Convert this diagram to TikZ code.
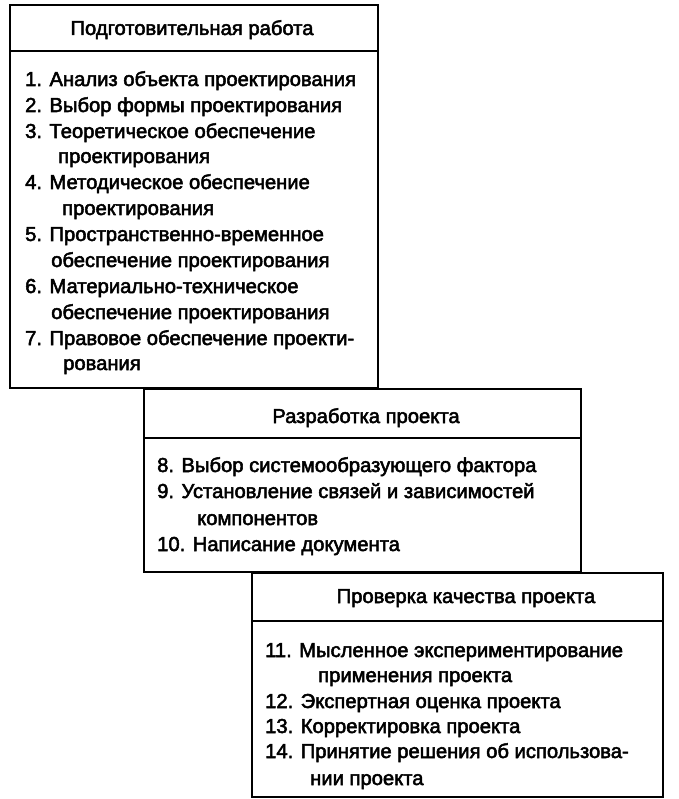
\documentclass[tikz,border=0pt]{standalone}
\usepackage{fontspec}
\setmainfont{Liberation Sans}[BoldFont=Liberation Sans,BoldFeatures={FakeBold=2.5}]
\begin{document}
\begin{tikzpicture}[x=1pt,y=-1pt,
  boxline/.style={draw=black,line width=1.5pt},
  sepline/.style={draw=black,line width=1.2pt},
  txt/.style={anchor=base west,inner sep=0pt,font=\bfseries\fontsize{20.2}{24}\selectfont},
  head/.style={anchor=base,inner sep=0pt,font=\bfseries\fontsize{20.2}{24}\selectfont}]
\useasboundingbox (0,0) rectangle (678,799);
% box 1
\draw[boxline] (10,5) rectangle (378,388);
\draw[sepline] (10,51) -- (378,51);
\node[head] (h1) at (192,35) {Подготовительная работа};
\node[txt] (a1) at (25,86) {1. Анализ объекта проектирования};
\node[txt] (a2) at (25,112) {2. Выбор формы проектирования};
\node[txt] (a3) at (25,138) {3. Теоретическое обеспечение};
\node[txt] (a3b) at (58,163) {проектирования};
\node[txt] (a4) at (25,189) {4. Методическое обеспечение};
\node[txt] (a4b) at (62,215) {проектирования};
\node[txt] (a5) at (25,241) {5. Пространственно-временное};
\node[txt] (a5b) at (51,267) {обеспечение проектирования};
\node[txt] (a6) at (25,293) {6. Материально-техническое};
\node[txt] (a6b) at (51,319) {обеспечение проектирования};
\node[txt] (a7) at (25,345) {7. Правовое обеспечение проекти-};
\node[txt] (a7b) at (63,370) {рования};
% box 2
\draw[boxline] (144,389) rectangle (581,572);
\draw[sepline] (144,438) -- (581,438);
\node[head] (h2) at (366,423) {Разработка проекта};
\node[txt] (b8) at (157,472) {8. Выбор системообразующего фактора};
\node[txt] (b9) at (157,498) {9. Установление связей и зависимостей};
\node[txt] (b9b) at (197,525) {компонентов};
\node[txt] (b10) at (157,551) {10. Написание документа};
% box 3
\draw[boxline] (252,573) rectangle (663,797);
\draw[sepline] (252,621) -- (663,621);
\node[head] (h3) at (466,603) {Проверка качества проекта};
\node[txt] (c11) at (265,657) {11. Мысленное экспериментирование};
\node[txt] (c11b) at (318,682) {применения проекта};
\node[txt] (c12) at (265,708) {12. Экспертная оценка проекта};
\node[txt] (c13) at (265,733) {13. Корректировка проекта};
\node[txt] (c14) at (265,758) {14. Принятие решения об использова-};
\node[txt] (c14b) at (310,785) {нии проекта};
\end{tikzpicture}
\end{document}
